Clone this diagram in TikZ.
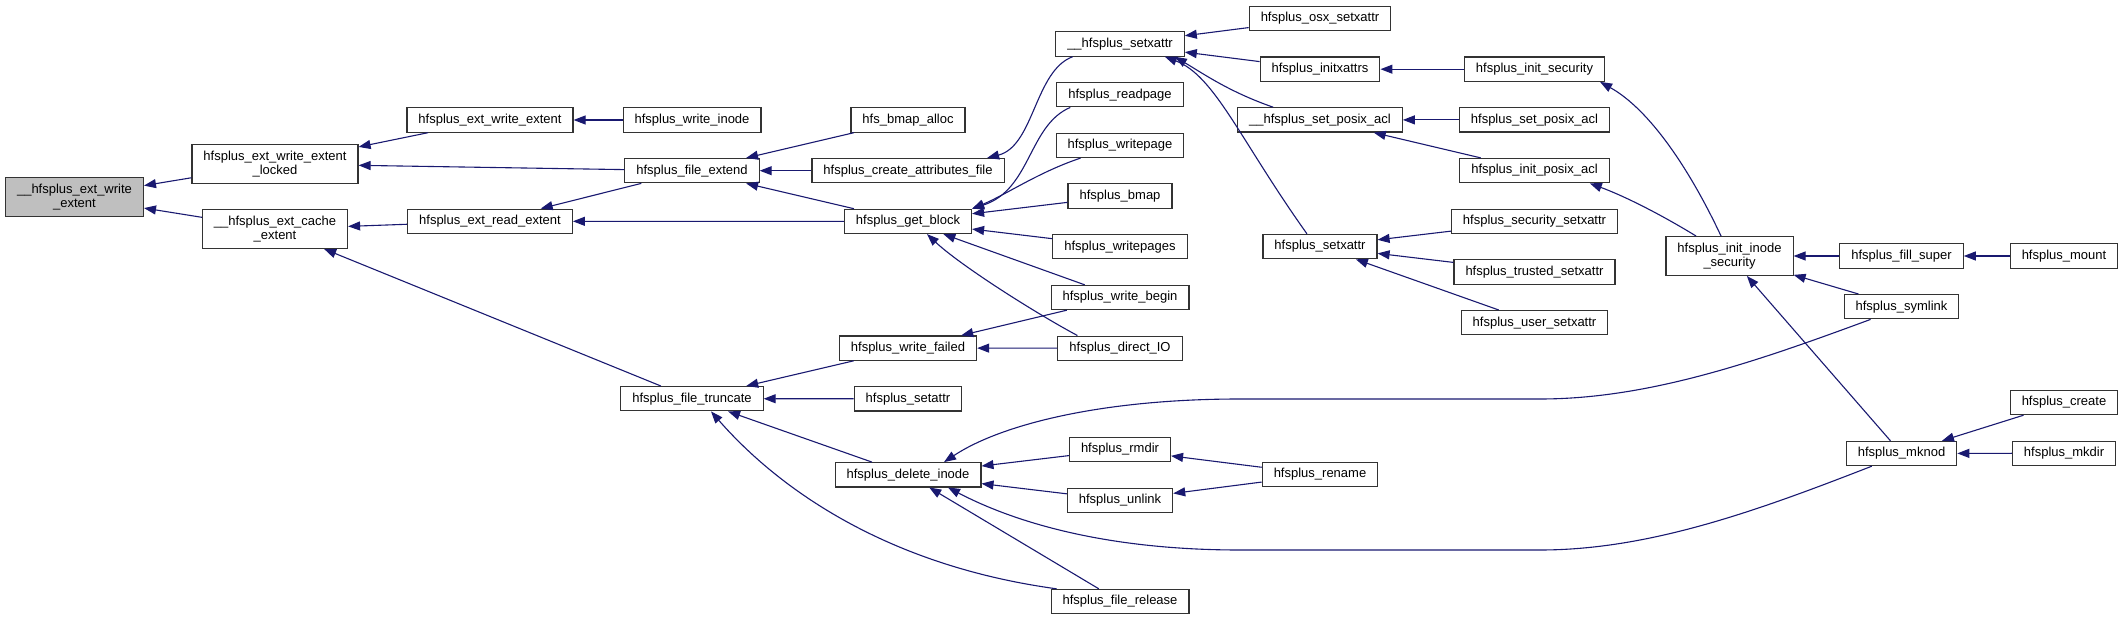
\documentclass[tikz,border=0pt]{standalone}
\usepackage{fontspec}
\setmainfont{Liberation Sans}
\usepackage{xcolor}
\usepackage{tikz}
\usetikzlibrary{positioning,arrows.meta}
\definecolor{callblue}{HTML}{191970}
\definecolor{rootgray}{HTML}{BFBFBF}

\begin{document}
\begin{tikzpicture}[
  x=1pt, y=-1pt, font=\fontsize{13}{14.7}\selectfont, >={Triangle[length=12pt,width=9pt]},
  fn/.style={draw=black!80,line width=1.1pt,fill=white,align=center,inner xsep=11.5pt,inner ysep=1pt,minimum height=24.3pt},
  two/.style={minimum height=38.9pt},
  call/.style={->,draw=callblue,line width=1.1pt}
]
\useasboundingbox (0,0) rectangle (2124,620);
\node[fn,two,fill=rootgray] (wrx) at (74.5,197) {\_\_hfsplus\_ext\_write\\\_extent};
\node[fn,two] (lck) at (275,164) {hfsplus\_ext\_write\_extent\\\_locked};
\node[fn,two,below=25pt of lck] (cch) {\_\_hfsplus\_ext\_cache\\\_extent};
\node[fn] (wre) at (490,120) {hfsplus\_ext\_write\_extent};
\node[fn,below=75.9pt of wre] (rde) {hfsplus\_ext\_read\_extent};
\node[fn] (wri) at (692,120) {hfsplus\_write\_inode};
\node[fn,below=25.3pt of wri] (fex) {hfsplus\_file\_extend};
\node[fn,below=202.6pt of fex] (ftr) {hfsplus\_file\_truncate};
\node[fn] (bma) at (908,120) {hfs\_bmap\_alloc};
\node[fn,below=25.3pt of bma] (caf) {hfsplus\_create\_attributes\_file};
\node[fn,below=25.3pt of caf] (gbl) {hfsplus\_get\_block};
\node[fn,below=101.3pt of gbl] (wfl) {hfsplus\_write\_failed};
\node[fn,below=25.3pt of wfl] (sat) {hfsplus\_setattr};
\node[fn,below=50.6pt of sat] (din) {hfsplus\_delete\_inode};
\node[fn] (sxa) at (1120,44) {\_\_hfsplus\_setxattr};
\node[fn,below=25.3pt of sxa] (rpg) {hfsplus\_readpage};
\node[fn,below=25.3pt of rpg] (wpg) {hfsplus\_writepage};
\node[fn,below=25.3pt of wpg] (bmp) {hfsplus\_bmap};
\node[fn,below=25.3pt of bmp] (wps) {hfsplus\_writepages};
\node[fn,below=25.3pt of wps] (wbg) {hfsplus\_write\_begin};
\node[fn,below=25.3pt of wbg] (dio) {hfsplus\_direct\_IO};
\node[fn,below=75.9pt of dio] (rmd) {hfsplus\_rmdir};
\node[fn,below=25.3pt of rmd] (unl) {hfsplus\_unlink};
\node[fn,below=75.9pt of unl] (frl) {hfsplus\_file\_release};
\node[fn] (osx) at (1320,18.5) {hfsplus\_osx\_setxattr};
\node[fn,below=25.3pt of osx] (ixa) {hfsplus\_initxattrs};
\node[fn,below=25.3pt of ixa] (spx) {\_\_hfsplus\_set\_posix\_acl};
\node[fn,below=101.3pt of spx] (hsx) {hfsplus\_setxattr};
\node[fn,below=202.6pt of hsx] (ren) {hfsplus\_rename};
\node[fn] (isc) at (1534.5,69.2) {hfsplus\_init\_security};
\node[fn,below=25.3pt of isc] (sac) {hfsplus\_set\_posix\_acl};
\node[fn,below=25.3pt of sac] (ipa) {hfsplus\_init\_posix\_acl};
\node[fn,below=25.3pt of ipa] (ssx) {hfsplus\_security\_setxattr};
\node[fn,below=25.3pt of ssx] (tsx) {hfsplus\_trusted\_setxattr};
\node[fn,below=25.3pt of tsx] (usx) {hfsplus\_user\_setxattr};
\node[fn,two] (iis) at (1729.5,256) {hfsplus\_init\_inode\\\_security};
\node[fn] (fsu) at (1901.5,256) {hfsplus\_fill\_super};
\node[fn,below=25.3pt of fsu] (sym) {hfsplus\_symlink};
\node[fn,below=121.4pt of sym] (mkn) {hfsplus\_mknod};
\node[fn] (mnt) at (2064,256) {hfsplus\_mount};
\node[fn,below=121.1pt of mnt] (cre) {hfsplus\_create};
\node[fn,below=25.3pt of cre] (mkd) {hfsplus\_mkdir};
\draw[call] (lck) -- (wrx);
\draw[call] (cch) -- (wrx);
\draw[call] (wre) -- (lck);
\draw[call] (fex) -- (lck);
\draw[call] (rde) -- (cch);
\draw[call] (ftr) -- (cch);
\draw[call] (wri) -- (wre);
\draw[call] (fex) -- (rde);
\draw[call] (gbl) -- (rde);
\draw[call] (bma) -- (fex);
\draw[call] (caf) -- (fex);
\draw[call] (gbl) -- (fex);
\draw[call] ([xshift=17.5pt]sxa.south west) .. controls +(-38,14) and +(47,-12) .. ([xshift=-17.5pt]caf.north east);
\draw[call] ([xshift=14pt]rpg.south west) .. controls +(-42,18) and +(59,-19) .. (gbl.north east);
\draw[call] ([xshift=25pt]wpg.south west) .. controls +(-42,14) and +(34,-14) .. (gbl.north east);
\draw[call] (bmp) -- (gbl);
\draw[call] (wps) -- (gbl);
\draw[call] (wbg) -- (gbl);
\draw[call] ([xshift=20pt]dio.north west) .. controls +(-43,-23) and +(33,31) .. ([xshift=19pt]gbl.south);
\draw[call] (wfl) -- (ftr);
\draw[call] (sat) -- (ftr);
\draw[call] (din) -- (ftr);
\draw[call] ([xshift=6pt]frl.north west) .. controls +(-168,-23) and +(69,79) .. ([xshift=19pt]ftr.south);
\draw[call] (wbg) -- (wfl);
\draw[call] (dio) -- (wfl);
\draw[call] (osx) -- (sxa);
\draw[call] (ixa) -- (sxa);
\draw[call] ([xshift=36pt]spx.north west) .. controls +(-43,-15) and +(30,18) .. ([xshift=-10pt]sxa.south east);
\draw[call] ([xshift=-13pt]hsx.north) .. controls +(-67,-94) and +(50,19) .. ([xshift=-20pt]sxa.south east);
\draw[call] (isc) -- (ixa);
\draw[call] (sac) -- (spx);
\draw[call] (ipa) -- (spx);
\draw[call] (ssx) -- (hsx);
\draw[call] (tsx) -- (hsx);
\draw[call] (usx) -- (hsx);
\draw[call] ([xshift=-8.5pt]iis.north) .. controls +(-31,-66) and +(50,28) .. ([xshift=-5pt]isc.south east);
\draw[call] ([xshift=-33.5pt]iis.north) .. controls +(-36,-22) and +(35,13) .. ([xshift=-20pt]ipa.south east);
\draw[call] (fsu) -- (iis);
\draw[call] (sym) -- (iis);
\draw[call] (mkn) -- (iis);
\draw[call] (mnt) -- (fsu);
\draw[call] ([xshift=27pt]sym.south west) .. controls +(-111,41) and (1650,399) .. (1540,399) -- (1240,399) .. controls (1100,399) and (1000,425) .. ([xshift=36pt]din.north);
\draw[call] ([xshift=26pt]mkn.south west) .. controls +(-113,44) and (1650,550) .. (1540,550) -- (1240,550) .. controls (1100,550) and (1010,520) .. ([xshift=40pt]din.south);
\draw[call] (rmd) -- (din);
\draw[call] (unl) -- (din);
\draw[call] (frl) -- (din);
\draw[call] (ren) -- (rmd);
\draw[call] (ren) -- (unl);
\draw[call] (cre) -- (mkn);
\draw[call] (mkd) -- (mkn);
\end{tikzpicture}
\end{document}
